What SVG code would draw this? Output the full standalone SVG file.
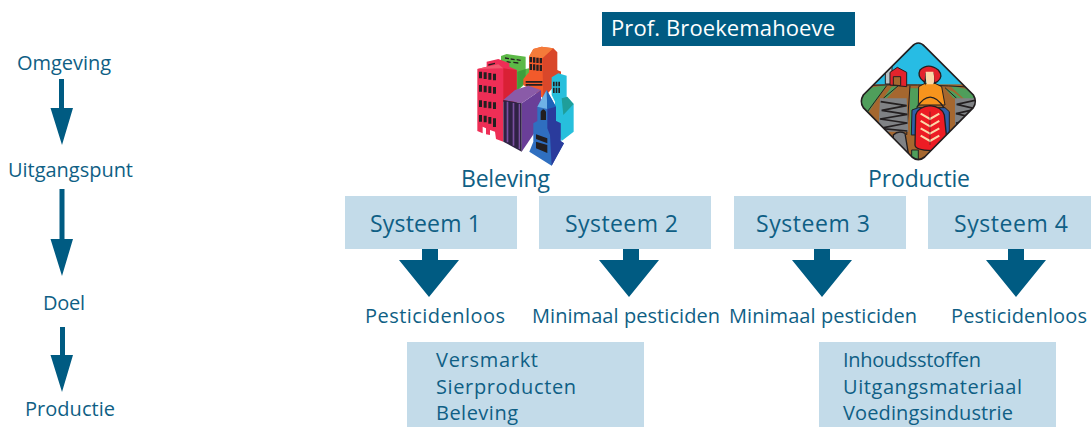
<svg xmlns="http://www.w3.org/2000/svg" width="1091" height="427" viewBox="0 0 1091 427">
<style>
text{font-family:"Open Sans","Noto Sans","Liberation Sans",sans-serif;fill:#0f5f85}
.s{font-size:20px}.m{font-size:23px}.l{font-size:20.5px}
.b{fill:#c3dbe9}.a{fill:#005b82}
.k{fill:#231f20}
</style>
<defs>
<clipPath id="dia"><path d="M205 24Q215 24 224 34L370 180Q382 200 370 218L224 366Q205 382 186 366L40 218Q28 200 40 180L186 34Q195 24 205 24Z"/></clipPath>
</defs>
<rect width="1091" height="427" fill="#fff"/>
<g id="connectors" class="a">
<path d="M59 79H64V108H73L62 145L50.500 108H59Z"/>
<path d="M59.500 189H64.500V239H73L62 276L50.500 239H59.500Z"/>
<path d="M60 327H65V355H73L62 392L50.500 355H60Z"/>
<path d="M422 249H438V260H459L429 297L399 260H422Z"/>
<path d="M623 249H639V260H659L629 297L599 260H623Z"/>
<path d="M814 249H830V260H852L822 297L792 260H814Z"/>
<path d="M1008 249H1024V260H1046L1016 297L986 260H1008Z"/>
</g>
<g id="omgeving"><text class="s" x="17" y="70" textLength="94">Omgeving</text></g>
<g id="uitgangspunt"><text class="s" x="8" y="177" textLength="125">Uitgangspunt</text></g>
<g id="doel"><text class="s" x="43" y="310" textLength="42">Doel</text></g>
<g id="productie-label"><text class="s" x="25" y="416" textLength="90">Productie</text></g>
<g id="titel"><rect class="a" x="602" y="12" width="253" height="34"/><text x="611" y="36" font-size="22" style="fill:#fff" textLength="224">Prof. Broekemahoeve</text></g>
<g id="stad" transform="translate(460 35) scale(.3333)">
<path fill="#5cb947" d="M123 63L140 57L197 65V102L207 100V135L170 170L123 140Z"/>
<path fill="#3f9e3c" d="M172 110L197 102V140L172 165Z"/>
<path class="k" d="M135 67l12 2v4l-12-2zM152 70l12 2v4l-12-2zM170 72l12 2v4l-12-2zM140 78l12 2v4l-12-2zM160 80l15 2v4l-15-2z"/>
<path fill="#f25a2b" d="M207 65L220 42L245 35L280 40V105L303 110V130L250 190L190 150V132L207 112Z"/>
<path fill="#d9472a" d="M247 70L280 40L292 52V105L303 110V130L250 190Z"/>
<path fill="#f47b3a" d="M207 65L220 42L245 35L280 40L247 70Z"/>
<path class="k" d="M209 66h7v16h-7zM219 67h7v16h-7zM229 68h7v16h-7zM239 69h7v16h-7zM209 87h7v18h-7zM219 88h7v18h-7zM229 89h7v18h-7zM239 90h7v18h-7zM197 138h50v5h-50zM197 147h50v5h-50z"/>
<path fill="#27bfdc" d="M275 127L295 115L320 122V185L341 207V290L305 318L285 260V200L275 180Z"/>
<path fill="#1f9e9a" d="M305 190L322 185L341 207L310 240Z"/>
<path class="k" d="M279 140h5v14h-5zM287 140h5v14h-5zM295 140h5v14h-5zM279 158h5v16h-5zM287 158h5v16h-5zM295 158h5v16h-5z"/>
<path fill="#ee2e56" d="M52 102L80 95V80L115 72L148 85V95L170 105V205L130 200V320L108 312L105 290L90 285V300L78 298V280L68 275V295L52 288Z"/>
<path fill="#d92035" d="M130 100L170 105V200L130 200Z"/>
<path fill="#f2586f" d="M52 102L80 95L115 88L130 100Z"/>
<path class="k" d="M85 88l20-5v4l-20 5z"/>
<path class="k" d="M57 110h9v20h-9zM71 112h9v20h-9zM85 114h9v20h-9zM99 116h9v20h-9zM57 150h9v20h-9zM71 152h9v20h-9zM85 154h9v20h-9zM99 156h9v20h-9zM57 196h9v20h-9zM71 198h9v20h-9zM85 200h9v20h-9zM99 202h9v20h-9zM57 240h9v20h-9zM71 242h9v20h-9zM85 246h9v20h-9zM99 250h9v26h-9z"/>
<path class="k" d="M57 133h51v2H57zM57 174h51v2H57zM57 220h51v2H57z" opacity="0"/>
<path fill="#6a3f98" d="M185 205L243 165V265L185 350Z"/>
<path fill="#8a5ba8" d="M130 195L165 165L205 152L243 165L185 205Z"/>
<path fill="#2f2244" d="M130 195L185 205V350L130 320Z"/>
<path fill="#7a4fa0" d="M140 200h5v122h-5zM158 204h5v128h-5zM176 206h4v136h-4z"/>
<path fill="#2f6fc0" d="M232 215L260 165L288 215V258L302 265V318L312 325L275 392L208 350L220 320V265L232 258Z"/>
<path fill="#2a3b9c" d="M262 210L288 215V258L302 265V318L312 325L275 392L270 300L262 280Z"/>
<path fill="#6eb2e6" d="M232 215L260 165L262 222Z"/>
<path fill="#1d62b8" d="M260 165L288 215L262 222Z"/>
<path class="k" d="M242 230Q250 215 258 230V255H242ZM228 298L262 310V325L228 312ZM228 320L262 330V354L228 340Z"/>
</g>
<g id="boerderij" transform="translate(850 35) scale(.3333)">
<g clip-path="url(#dia)">
<rect x="20" y="10" width="370" height="140" fill="#27bce4"/>
<rect x="20" y="148" width="370" height="240" fill="#a5672f"/>
<path fill="#4f9e5b" d="M20 165L110 150L50 240L20 215ZM390 170L300 152L340 190L390 215ZM180 160H205V300H180Z"/>
<path fill="#4f9e5b" d="M125 155L145 152L110 190L100 190ZM285 160L310 170L335 190L310 190Z"/>
<path stroke="#231f20" stroke-width="3" fill="none" d="M20 152Q200 145 390 158M110 152L45 240M145 152L100 190M180 152L170 300M285 158L320 190"/>
<path fill="#808285" d="M90 190H170L175 290H85Z"/>
<path fill="#808285" d="M315 190H385V300H315Z"/>
<path stroke="#231f20" stroke-width="5" fill="none" d="M92 200L170 212L95 226L172 238L90 252L172 264L90 280L172 288M380 195L320 208L380 222L318 236L382 250L318 264L382 278"/>
<path fill="#808285" stroke="#231f20" stroke-width="4" d="M130 300Q145 285 165 295L180 385H130Z"/>
<path fill="#b9c3c6" stroke="#231f20" stroke-width="3" d="M106 147V92Q115 78 126 92V147Z"/>
<path fill="#e3232c" stroke="#231f20" stroke-width="3" d="M120 150V112L142 97L170 112V155Z"/>
<path fill="#a5672f" stroke="#231f20" stroke-width="3" d="M130 150V125H152V152Z"/>
<path fill="#f7941d" stroke="#231f20" stroke-width="3" d="M206 155L225 145H255L275 155L285 210H205Z"/>
<path fill="#e3232c" stroke="#231f20" stroke-width="4" d="M222 140Q200 125 210 105Q235 82 265 105Q282 125 262 140L252 145L250 115H228L225 145Z"/>
<path fill="#fcd8a8" d="M227 110H250Q255 135 250 148H230Q226 130 227 110Z"/>
<path fill="#2e5fa8" stroke="#231f20" stroke-width="3" d="M186 225L205 218H285L298 230V300H184Z"/>
<path fill="#a5672f" stroke="#231f20" stroke-width="4" d="M200 218Q240 155 282 218" fill-opacity="0"/>
<path fill="#ed1c24" stroke="#231f20" stroke-width="4" d="M197 240Q205 215 240 212Q275 215 283 240L292 330Q290 345 245 347Q195 345 195 330Z"/>
<path stroke="#fcd8a8" stroke-width="6" fill="none" d="M212 236L240 252L268 236M212 258L240 274L268 258M212 280L240 296L268 280M212 302L240 318L268 302"/>
<path stroke="#231f20" stroke-width="1.500" fill="none" d="M240 230V330"/>
<path fill="#4f9e5b" stroke="#231f20" stroke-width="3" d="M185 345H205V385H185Z"/>
</g>
<path fill="none" stroke="#231f20" stroke-width="5" d="M205 24Q215 24 224 34L370 180Q382 200 370 218L224 366Q205 382 186 366L40 218Q28 200 40 180L186 34Q195 24 205 24Z"/>
</g>
<g id="beleving"><text class="m" x="461" y="187" textLength="89">Beleving</text></g>
<g id="productie"><text class="m" x="868" y="187" textLength="102">Productie</text></g>
<g id="systeem1"><rect class="b" x="345" y="196" width="172" height="53"/><text class="m" x="370" y="232" textLength="111">Systeem 1</text></g>
<g id="systeem2"><rect class="b" x="539" y="196" width="172" height="53"/><text class="m" x="565" y="232" textLength="113">Systeem 2</text></g>
<g id="systeem3"><rect class="b" x="734" y="196" width="172" height="53"/><text class="m" x="756" y="232" textLength="114">Systeem 3</text></g>
<g id="systeem4"><rect class="b" x="928" y="196" width="163" height="53"/><text class="m" x="954" y="232" textLength="114">Systeem 4</text></g>
<g id="doel1"><text class="s" x="365" y="323" textLength="140">Pesticidenloos</text></g>
<g id="doel2"><text class="s" x="532" y="323" textLength="188">Minimaal pesticiden</text></g>
<g id="doel3"><text class="s" x="729" y="323" textLength="188">Minimaal pesticiden</text></g>
<g id="doel4"><text class="s" x="951" y="323" textLength="136">Pesticidenloos</text></g>
<g id="afzet1"><rect class="b" x="407" y="342" width="237" height="85"/>
<text class="s" x="436" y="367" textLength="102">Versmarkt</text><text class="s" x="436" y="394" textLength="140">Sierproducten</text><text class="s" x="436" y="420" textLength="82">Beleving</text></g>
<g id="afzet2"><rect class="b" x="819" y="342" width="237" height="85"/>
<text class="s" x="843" y="367" textLength="138">Inhoudsstoffen</text><text class="s" x="843" y="394" textLength="179">Uitgangsmateriaal</text><text class="s" x="843" y="420" textLength="170">Voedingsindustrie</text></g>
</svg>
